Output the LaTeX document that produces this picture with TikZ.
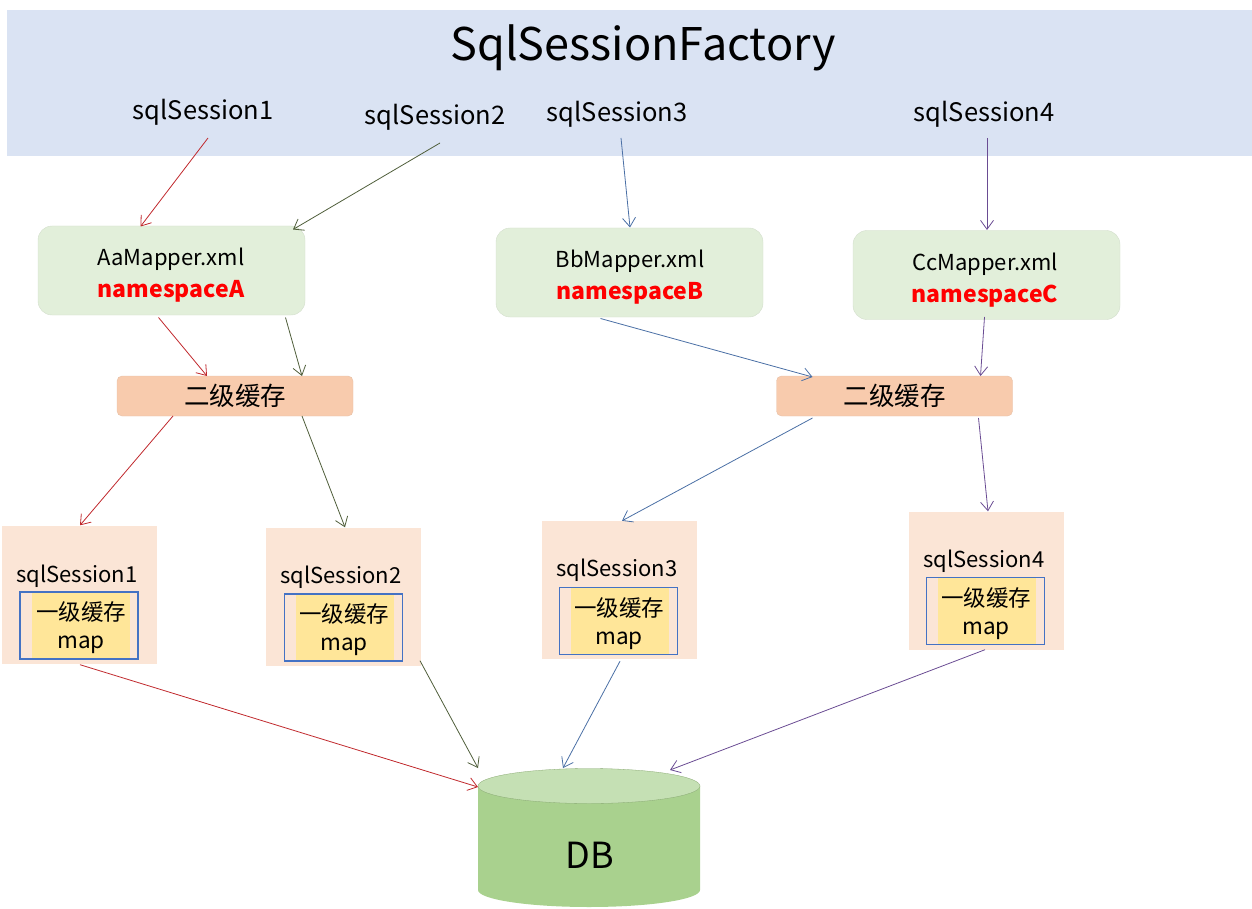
\documentclass[tikz,border=0pt]{standalone}
\usepackage{fontspec}
\setmainfont{Noto Sans CJK SC}
\usetikzlibrary{arrows.meta,calc,shapes.geometric}
\definecolor{bandblue}{HTML}{DAE3F3}
\definecolor{mapgreen}{HTML}{E2EFDA}
\definecolor{cacheor}{HTML}{F8CBAD}
\definecolor{sesspink}{HTML}{FBE5D6}
\definecolor{mapyel}{HTML}{FFE699}
\definecolor{mapblue}{HTML}{4472C4}
\definecolor{dbbody}{HTML}{A9D18E}
\definecolor{dbtop}{HTML}{C5E0B4}
\definecolor{cred}{HTML}{C0282C}
\definecolor{cgreen}{HTML}{4F5E3A}
\definecolor{cblue}{HTML}{4A6FA5}
\definecolor{cpurple}{HTML}{6A4C93}
\definecolor{nsred}{HTML}{FF0000}
\newcommand\nstext[1]{\textcolor{nsred}{\fontsize{23}{32}\selectfont\bfseries #1}}
\tikzset{
  conn/.style={line width=0.8pt,-{Straight Barb[length=9pt,width=13pt]}},
  lbl/.style={font=\fontsize{25.5}{28}\selectfont, inner sep=0pt},
  mapperbox/.style={fill=mapgreen, draw=mapgreen!85!gray, rounded corners=14pt, minimum width=267pt, minimum height=89pt},
  mappertext/.style={align=center, inner sep=0pt, font=\fontsize{22}{32}\selectfont},
  cachebox/.style={fill=cacheor, draw=cacheor!85!gray, rounded corners=5pt, minimum width=236pt, minimum height=40pt, font=\fontsize{25.5}{28}\selectfont},
  sessbox/.style={fill=sesspink, minimum width=155pt, minimum height=138pt},
  sesslbl/.style={font=\fontsize{22}{26}\selectfont, inner sep=0pt},
  yelbox/.style={fill=mapyel, minimum width=98pt, minimum height=66pt},
  yeltext/.style={align=center, font=\fontsize{22.5}{28}\selectfont, inner sep=0pt},
  bluebox/.style={draw=mapblue, line width=1.6pt, minimum width=118pt, minimum height=67pt}
}
\begin{document}
\begin{tikzpicture}[x=1pt,y=-1pt]
\useasboundingbox (0,0) rectangle (1252,909);
% top band
\fill[bandblue] (7,10) rectangle (1252,156);
\node[font=\fontsize{45}{50}\selectfont, inner sep=0pt] (title) at (643,48) {SqlSessionFactory};
\node[lbl] (l1) at (203,112) {sqlSession1};
\node[lbl] (l2) at (435,117) {sqlSession2};
\node[lbl] (l3) at (617,114) {sqlSession3};
\node[lbl] (l4) at (984,114) {sqlSession4};

% mapper boxes
\node[mapperbox] (aa) at (171.5,270.5) {};
\node[mappertext] (aat) at (171,275) {AaMapper.xml\\\nstext{namespaceA}};
\node[mapperbox] (bb) at (629.5,272.5) {};
\node[mappertext] (bbt) at (630,277) {BbMapper.xml\\\nstext{namespaceB}};
\node[mapperbox] (cc) at (986.5,275) {};
\node[mappertext] (cct) at (985,280) {CcMapper.xml\\\nstext{namespaceC}};

% caches
\node[cachebox] (ca) at (235,396) {二级缓存};
\node[cachebox] (cb) at (894.5,396) {二级缓存};

% sessions
\node[sessbox] (s1) at (79.5,594.5) {};
\node[sessbox] (s2) at (343.5,596.5) {};
\node[sessbox] (s3) at (619.5,590) {};
\node[sessbox] (s4) at (986.5,580.5) {};
\node[sesslbl] at (77,576) {sqlSession1};
\node[sesslbl] at (341,577) {sqlSession2};
\node[sesslbl] at (617,570) {sqlSession3};
\node[sesslbl] at (984,561) {sqlSession4};
\node[yelbox] (y1) at (81,625.5) {};
\node[yeltext] at (81,628) {一级缓存\\map};
\node[bluebox] (b1) at (79,625.5) {};
\node[yelbox] (y2) at (345,627.5) {};
\node[yeltext] at (344,630) {一级缓存\\map};
\node[bluebox] (b2) at (343.5,627.5) {};
\node[yelbox] (y3) at (620,621) {};
\node[yeltext] at (619,623.5) {一级缓存\\map};
\node[bluebox] (b3) at (618.5,621) {};
\node[yelbox] (y4) at (987,611) {};
\node[yeltext] at (986,613.5) {一级缓存\\map};
\node[bluebox] (b4) at (985.5,611) {};

% DB cylinder
\fill[dbbody] (478,786) -- (478,890) arc[start angle=180,end angle=360,x radius=111pt,y radius=17pt] -- (700,786) -- cycle;
\fill[dbtop] (589,786) ellipse[x radius=111pt,y radius=17.5pt];
\draw[dbbody!80!black,line width=0.3pt] (589,786) ellipse[x radius=111pt,y radius=17.5pt];
\node[font=\fontsize{36}{40}\selectfont, inner sep=0pt] (db) at (590,855) {DB};
\coordinate (dbl) at (478,787);
\coordinate (dbt) at (589,768);

% connectors top
\draw[conn,cred] ([shift={(5,26)}]l1.center) -- ([shift={(-31,-44)}]aa.center);
\draw[conn,cgreen] ([shift={(5,26)}]l2.center) -- ([shift={(121.5,-41)}]aa.center);
\draw[conn,cblue] ([shift={(4,24)}]l3.center) -- ([shift={(0.5,-45)}]bb.center);
\draw[conn,cpurple] ([shift={(3,24)}]l4.center) -- ([shift={(0.5,-45)}]cc.center);
% mapper -> cache
\draw[conn,cred] ([shift={(-13,47)}]aa.center) -- ([shift={(-28,-20)}]ca.center);
\draw[conn,cgreen] ([shift={(114,47)}]aa.center) -- ([shift={(67,-20)}]ca.center);
\draw[conn,cblue] ([shift={(-29,46)}]bb.center) -- ([shift={(-82,-19)}]cb.center);
\draw[conn,cpurple] ([shift={(-2,42)}]cc.center) -- ([shift={(86,-20)}]cb.center);
% cache -> sessions
\draw[conn,cred] ([shift={(-62,20)}]ca.center) -- ([shift={(0.5,0)}]s1.north);
\draw[conn,cgreen] ([shift={(67,20)}]ca.center) -- ([shift={(1.5,0)}]s2.north);
\draw[conn,cblue] ([shift={(-82,22)}]cb.center) -- ([shift={(2.5,0)}]s3.north);
\draw[conn,cpurple] ([shift={(84,22)}]cb.center) -- ([shift={(1.5,0)}]s4.north);
% sessions -> DB
\draw[conn,cred] ([shift={(0.5,1)}]s1.south) -- (dbl);
\draw[conn,cgreen] ([shift={(76.5,-5)}]s2.south) -- ([shift={(-111,0)}]dbt);
\draw[conn,cblue] ([shift={(0.5,2)}]s3.south) -- ([shift={(-26,0)}]dbt);
\draw[conn,cpurple] ([shift={(-1.5,0)}]s4.south) -- ([shift={(81,2)}]dbt);
\end{tikzpicture}
\end{document}
